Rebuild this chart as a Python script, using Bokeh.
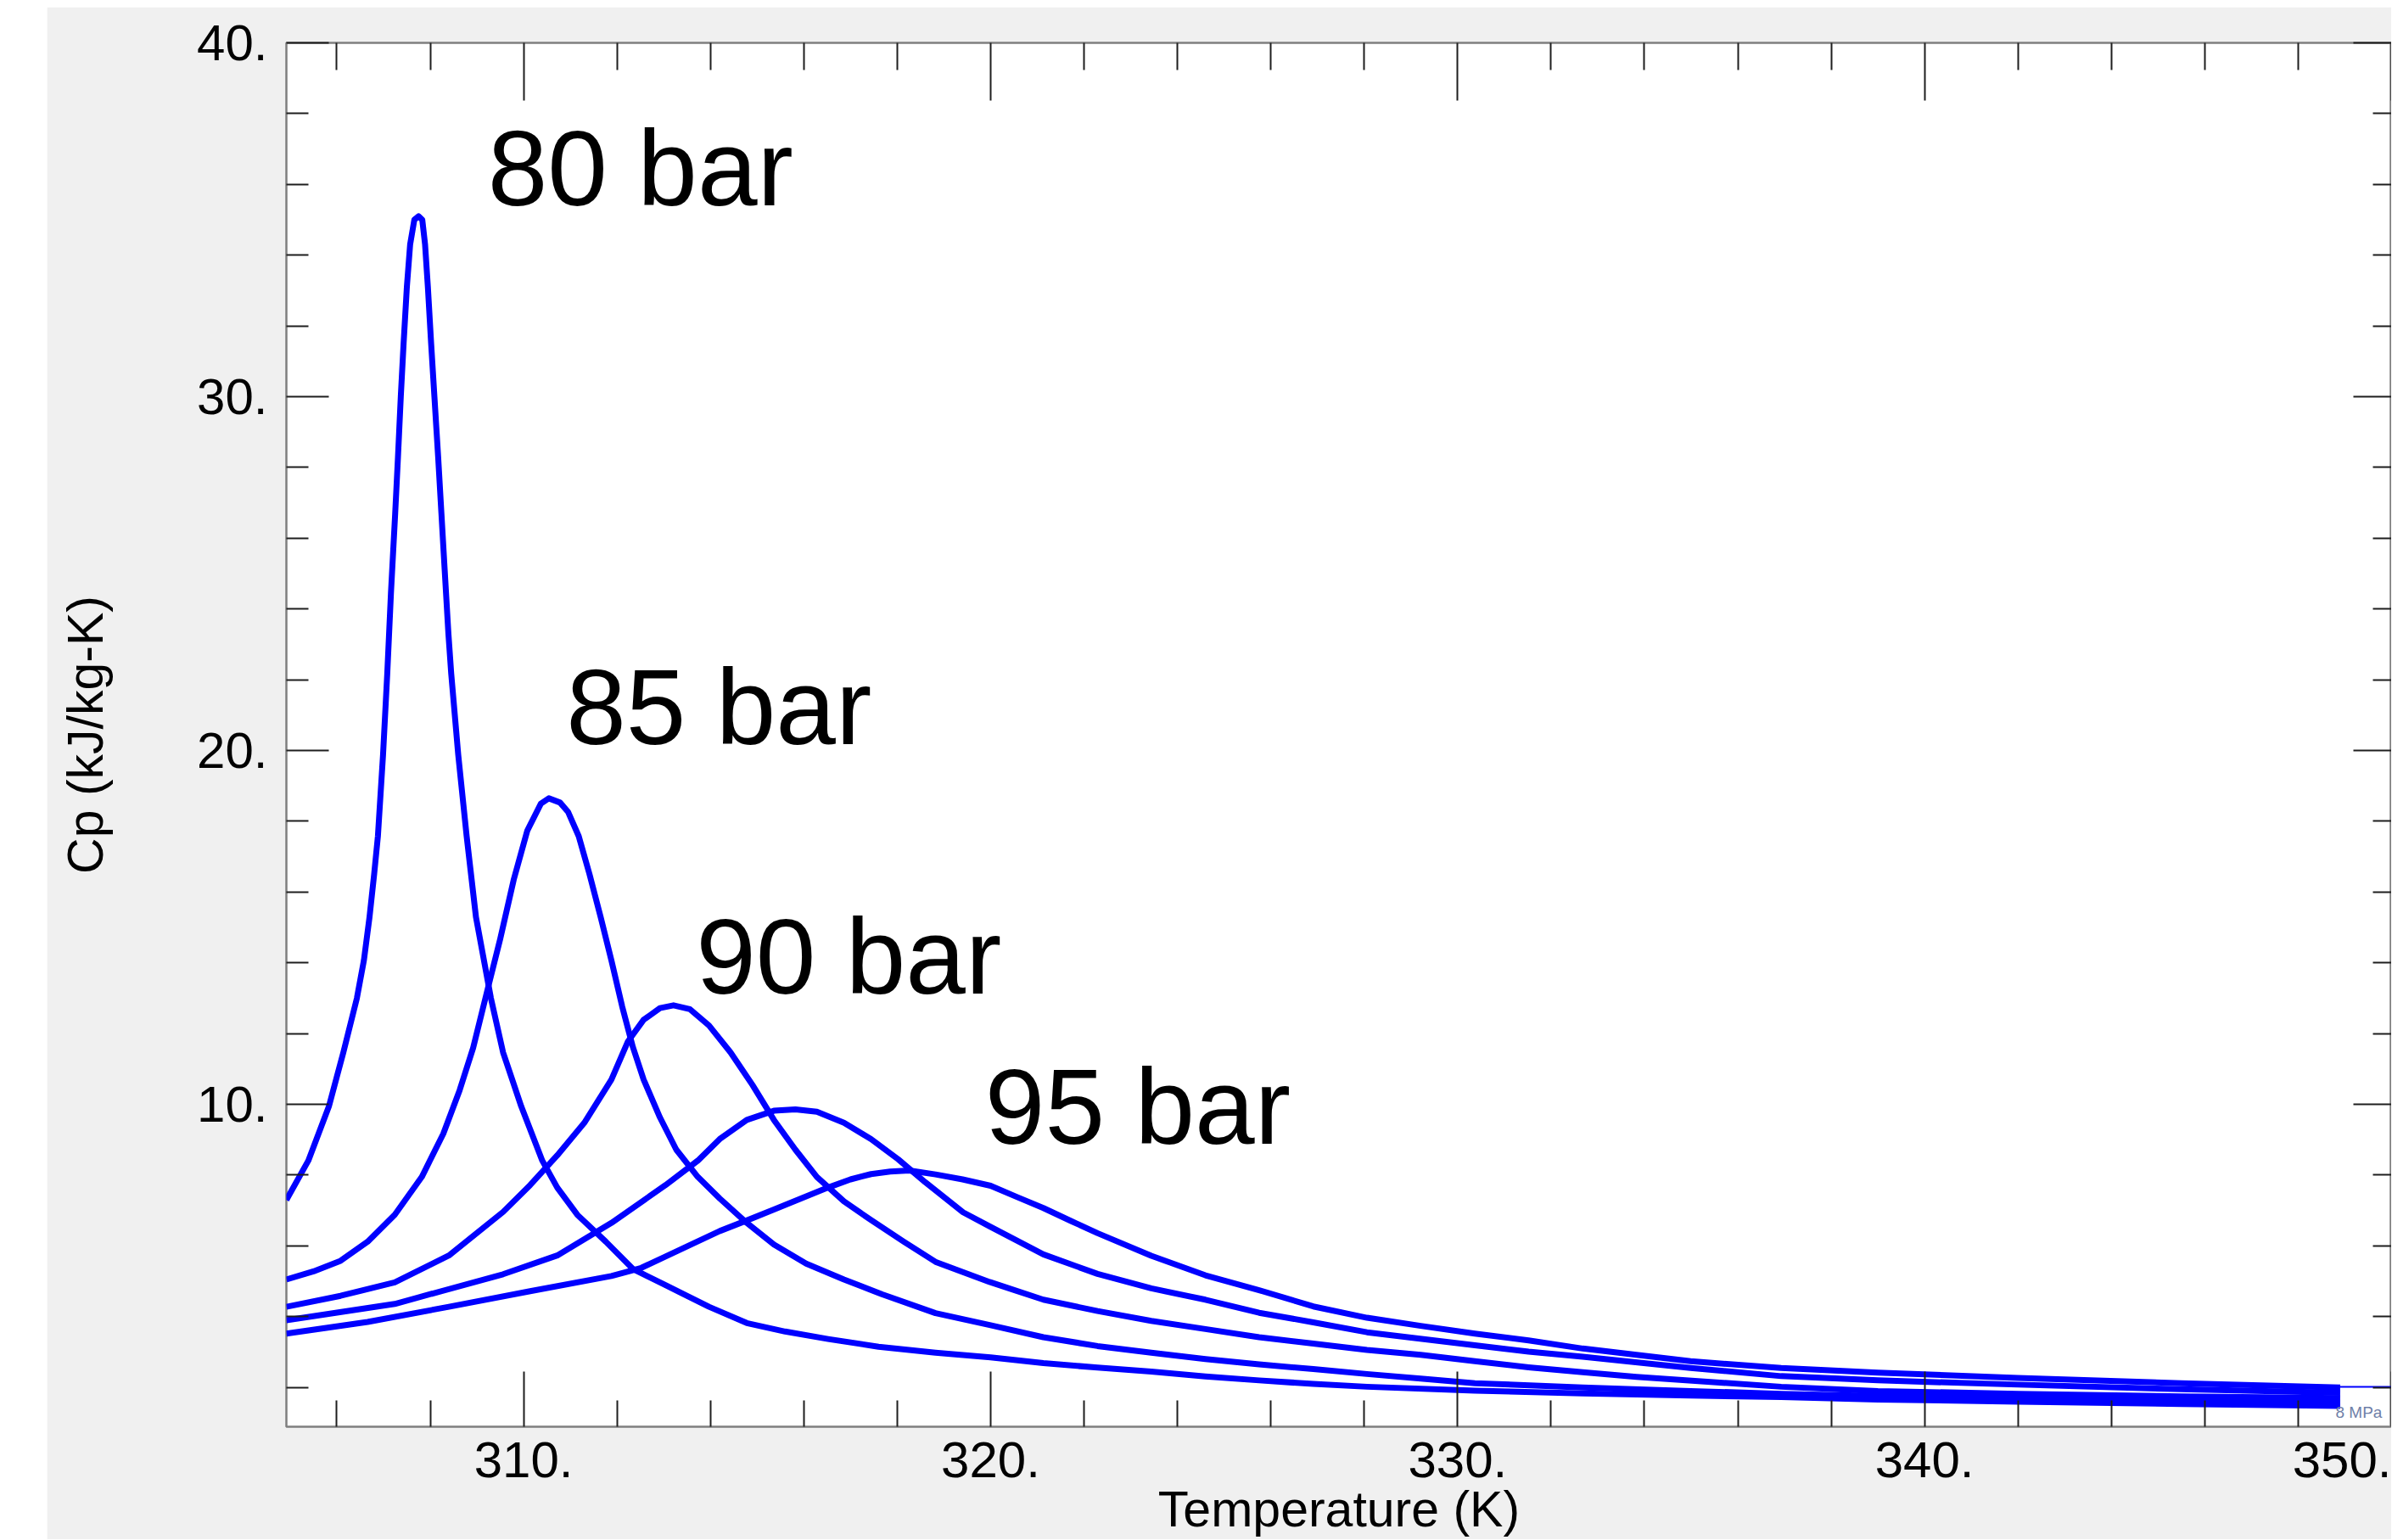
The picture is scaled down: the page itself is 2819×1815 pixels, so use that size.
from bokeh.plotting import figure
from bokeh.models import LinearAxis, FixedTicker, ColumnDataSource, Spacer
from bokeh.layouts import row, column
from bokeh.embed import file_html
from bokeh.resources import INLINE
from bokeh.core.properties import value

# ---------------- data ----------------
T_80 = [304.92, 305.39, 305.83, 306.14, 306.43, 306.58, 306.70, 306.80, 306.88, 306.99,
        307.08, 307.16, 307.25, 307.31, 307.37, 307.43, 307.50, 307.57, 307.66, 307.75,
        307.83, 307.89, 307.95, 308.02, 308.09, 308.17, 308.24, 308.31, 308.39, 308.45,
        308.60, 308.78, 308.98, 309.30, 309.56, 309.95, 310.40, 310.72, 311.15, 311.76,
        312.34, 313.04, 313.97, 314.78, 315.6, 316.52, 317.6, 318.82, 320.0, 321.13,
        322.29, 323.44, 324.60, 325.75, 326.91, 328.06, 330.37, 332.68, 334.99, 336.93,
        339.0, 342.0, 345.5, 348.9]
cp_80 = [7.3, 8.41, 9.94, 11.47, 13.0, 14.07, 15.29, 16.51, 17.58, 19.88,
         22.17, 24.47, 26.7, 28.3, 30.0, 31.5, 33.1, 34.3, 35.0, 35.1,
         35.0, 34.3, 33.1, 31.5, 30.0, 28.3, 26.7, 25.1, 23.3, 22.17,
         19.88, 17.58, 15.29, 13.0, 11.47, 9.94, 8.41, 7.65, 6.88, 6.12,
         5.35, 4.89, 4.28, 3.82, 3.58, 3.37, 3.15, 2.98, 2.85, 2.69,
         2.56, 2.45, 2.31, 2.2, 2.1, 2.02, 1.91, 1.83, 1.77, 1.73,
         1.66, 1.6, 1.53, 1.48]

T_85 = [304.92, 305.5, 306.08, 306.66, 307.24, 307.82, 308.28, 308.63, 308.92, 309.21,
        309.50, 309.79, 310.08, 310.37, 310.54, 310.78, 310.95, 311.18, 311.41, 311.65,
        311.88, 312.11, 312.34, 312.57, 312.92, 313.27, 313.73, 314.2, 314.78, 315.36,
        316.05, 316.86, 317.68, 318.82, 320.0, 321.13, 322.29, 323.44, 324.60, 325.75,
        326.91, 328.06, 329.21, 330.37, 332.68, 334.99, 336.93, 339.0, 342.0, 345.5,
        348.9]
cp_85 = [5.05, 5.28, 5.58, 6.12, 6.88, 7.95, 9.17, 10.4, 11.6, 13.15,
         14.68, 16.36, 17.74, 18.5, 18.65, 18.53, 18.27, 17.58, 16.51, 15.29,
         14.07, 12.77, 11.62, 10.7, 9.63, 8.72, 7.95, 7.34, 6.65, 6.04,
         5.5, 5.05, 4.63, 4.1, 3.76, 3.42, 3.17, 2.98, 2.8, 2.65,
         2.52, 2.38, 2.25, 2.12, 2.0, 1.9, 1.82, 1.76, 1.7, 1.63,
         1.58]

T_90 = [304.92, 306.08, 307.24, 308.4, 309.56, 310.14, 310.72, 311.3, 311.88, 312.23,
        312.57, 312.92, 313.21, 313.56, 313.97, 314.43, 314.9, 315.36, 315.82, 316.28,
        316.86, 317.44, 318.14, 318.82, 319.98, 321.13, 322.29, 323.44, 324.60, 325.75,
        326.91, 328.06, 329.21, 330.37, 331.52, 332.68, 333.83, 336.93, 339.0, 342.0,
        345.5, 348.9]
cp_90 = [4.28, 4.59, 4.97, 5.73, 6.96, 7.72, 8.56, 9.48, 10.7, 11.77,
         12.39, 12.72, 12.8, 12.69, 12.23, 11.47, 10.55, 9.56, 8.72, 7.95,
         7.26, 6.73, 6.12, 5.55, 4.98, 4.48, 4.16, 3.88, 3.65, 3.42,
         3.24, 3.06, 2.92, 2.74, 2.57, 2.43, 2.3, 2.02, 1.9, 1.82,
         1.75, 1.7]

T_95 = [304.92, 307.24, 309.56, 310.72, 311.88, 313.04, 313.73, 314.2, 314.78, 315.36,
        315.82, 316.28, 316.86, 317.44, 318.02, 318.6, 319.41, 319.98, 321.13, 322.29,
        323.44, 324.60, 325.75, 326.91, 328.06, 330.37, 331.52, 332.68, 334.99, 336.93,
        339.0, 342.0, 345.5, 348.9]
cp_95 = [3.9, 4.36, 5.2, 5.73, 6.65, 7.72, 8.41, 9.02, 9.56, 9.82,
         9.86, 9.79, 9.48, 9.02, 8.45, 7.8, 6.95, 6.55, 5.76, 5.21,
         4.8, 4.48, 4.11, 3.84, 3.56, 3.19, 3.01, 2.87, 2.55, 2.32,
         2.2, 2.08, 1.95, 1.85]

T_100 = [304.92, 306.66, 308.4, 310.14, 311.88, 312.52, 313.04, 313.6, 314.2, 314.78,
         315.36, 315.94, 316.52, 317.0, 317.44, 317.85, 318.26, 318.82, 319.4, 320.0,
         320.57, 321.13, 321.73, 322.29, 323.44, 324.60, 325.75, 326.91, 328.06, 329.21,
         330.37, 331.52, 332.68, 333.83, 334.99, 336.93, 339.0, 342.0, 345.5, 348.9]
cp_100 = [3.52, 3.85, 4.28, 4.72, 5.15, 5.38, 5.7, 6.05, 6.42, 6.72,
          7.03, 7.34, 7.65, 7.88, 8.03, 8.1, 8.13, 8.02, 7.88, 7.7,
          7.38, 7.07, 6.7, 6.36, 5.72, 5.17, 4.75, 4.29, 3.97, 3.74,
          3.52, 3.33, 3.1, 2.92, 2.74, 2.55, 2.42, 2.27, 2.12, 2.0]

tail_T = [348.9, 350.0]
tail_cp = [2.02, 2.02]

label_text = ["80 bar", "85 bar", "90 bar", "95 bar"]
label_T = [309.23, 310.91, 313.69, 319.88]
label_cp = [35.35, 20.14, 13.08, 8.83]

note_text = ["8 MPa"]
note_T = [348.8]
note_cp = [1.13]

x_major = [310, 320, 330, 340, 350]
x_major_labels = ["310.", "320.", "330.", "340.", "350."]
x_minor = [306, 308, 312, 314, 316, 318, 322, 324, 326, 328,
           332, 334, 336, 338, 342, 344, 346, 348]
y_major = [10, 20, 30, 40]
y_major_labels = ["10.", "20.", "30.", "40."]
y_minor = [2, 4, 6, 8, 12, 14, 16, 18, 22, 24, 26, 28, 32, 34, 36, 38]

x_label = "Temperature (K)"
y_label = "Cp (kJ/kg-K)"

# ---------------- figure ----------------
FONT = "Liberation Sans"
BG = "#f0f0f0"
TICK = "#1e1e1e"

p = figure(width=2763, height=1806, x_range=(304.92, 350.0), y_range=(0.89, 40.0),
           output_backend="svg", toolbar_location=None,
           min_border_left=282, min_border_top=42, min_border_right=0,
           min_border_bottom=132)
p.background_fill_color = "white"
p.border_fill_color = BG
p.outline_line_color = "#7f7f7f"
p.outline_line_width = 2.5
p.xgrid.grid_line_color = None
p.ygrid.grid_line_color = None


def style(ax, major_in, minor_in, labels):
    ax.major_tick_in = major_in
    ax.major_tick_out = 0
    ax.minor_tick_in = minor_in
    ax.minor_tick_out = 0
    ax.major_tick_line_color = TICK
    ax.minor_tick_line_color = TICK
    ax.major_tick_line_width = 2
    ax.minor_tick_line_width = 2
    ax.axis_line_color = None
    if labels:
        ax.major_label_text_font = FONT
        ax.major_label_text_font_size = "60px"
        ax.major_label_text_color = "black"
        ax.axis_label_text_font = FONT
        ax.axis_label_text_font_size = "59px"
        ax.axis_label_text_font_style = "normal"
        ax.axis_label_text_color = "black"
    else:
        ax.major_label_text_font_size = "0px"
        ax.major_label_standoff = 0
        ax.major_label_text_alpha = 0


xa = p.xaxis[0]
xa.ticker = FixedTicker(ticks=x_major, minor_ticks=x_minor)
xa.major_label_overrides = dict(zip(x_major, x_major_labels))
style(xa, 65, 31, True)
xa.major_label_standoff = 18
xa.axis_label = x_label
xa.axis_label_standoff = 2

ya = p.yaxis[0]
ya.ticker = FixedTicker(ticks=y_major, minor_ticks=y_minor)
ya.major_label_overrides = dict(zip(y_major, y_major_labels))
style(ya, 50, 26, True)
ya.major_label_standoff = 22
ya.axis_label = y_label
ya.axis_label_standoff = 95

top = LinearAxis(ticker=FixedTicker(ticks=x_major, minor_ticks=x_minor))
style(top, 68, 32, False)
p.add_layout(top, "above")

right = LinearAxis(ticker=FixedTicker(ticks=y_major, minor_ticks=y_minor))
style(right, 45, 22, False)
p.add_layout(right, "right")

for T, cp in [(T_80, cp_80), (T_85, cp_85), (T_90, cp_90), (T_95, cp_95), (T_100, cp_100)]:
    p.line(T, cp, line_color="#0000ff", line_width=7, line_join="round")

p.line(tail_T, tail_cp, line_color="#0000ff", line_width=2)

src = ColumnDataSource(dict(x=label_T, y=label_cp, t=label_text))
p.text(x="x", y="y", text="t", source=src, text_font=value(FONT),
       text_font_size=value("127px"), text_color="black",
       text_align="left", text_baseline="alphabetic", y_offset=-46)

nsrc = ColumnDataSource(dict(x=note_T, y=note_cp, t=note_text))
p.text(x="x", y="y", text="t", source=nsrc, text_font=value(FONT),
       text_font_size=value("19px"), text_color="#6f80a8",
       text_align="left", text_baseline="alphabetic", y_offset=-7)

layout = column(Spacer(width=2818, height=8),
                row(Spacer(width=55, height=1806), p))

open("out.html", "w").write(file_html(layout, INLINE))
